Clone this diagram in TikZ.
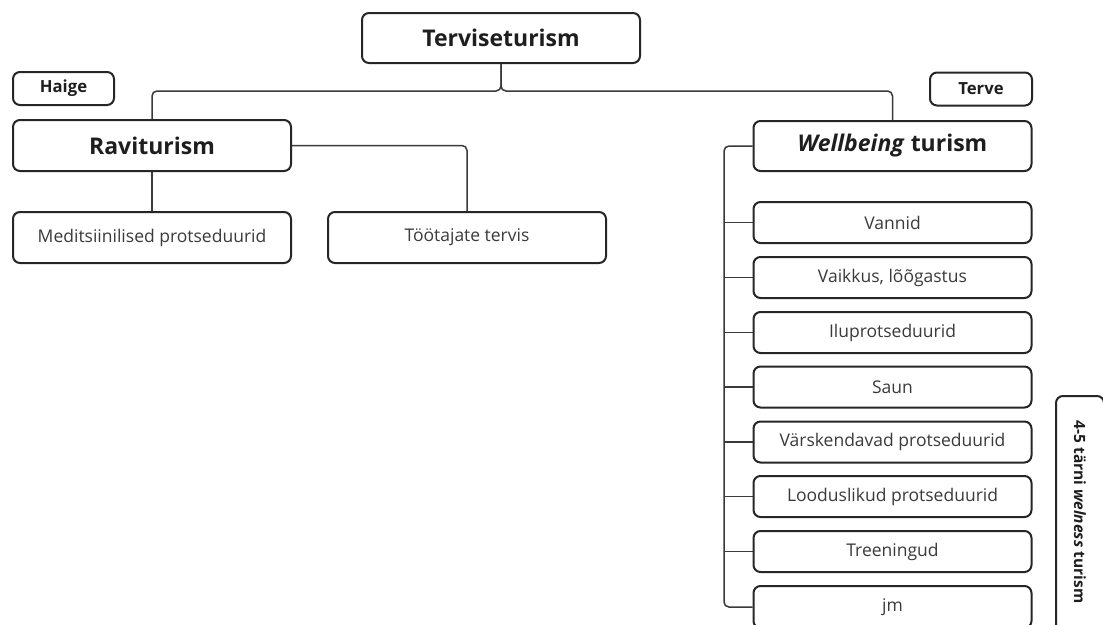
\documentclass[tikz,border=0pt]{standalone}
\usepackage{fontspec}
\setmainfont{Open Sans}
\definecolor{bordercol}{HTML}{262626}
\definecolor{linecol}{HTML}{3A3A3A}
\definecolor{titlecol}{HTML}{1E1E1E}
\definecolor{itemcol}{HTML}{3A3A3A}
\tikzset{
  box/.style={draw=bordercol, line width=2pt, rounded corners=7pt, inner sep=0pt, align=center, fill=white},
  titlebox/.style={box, text=titlecol, font=\fontsize{23}{27}\selectfont\bfseries, minimum width=278pt, minimum height=50pt},
  tagbox/.style={box, text=titlecol, font=\fontsize{16.7}{20}\selectfont\bfseries, minimum height=33pt},
  itembox/.style={box, text=itemcol, font=\fontsize{17.5}{21}\selectfont, minimum width=278pt, minimum height=41pt},
  conn/.style={draw=linecol, line width=1.5pt, rounded corners=5pt},
}
\begin{document}
\begin{tikzpicture}[x=1pt,y=-1pt]
\useasboundingbox[fill=white] (0,0) rectangle (1103,624);
% nodes
\node[titlebox] (tv) at (501,38) {Terviseturism};
\node[tagbox, minimum width=101pt] (haige) at (63.5,88.5) {Haige};
\node[tagbox, minimum width=102pt] (terve) at (981,89) {Terve};
\node[titlebox, minimum height=51pt] (rav) at (152,145.5) {Raviturism};
\node[itembox, minimum height=51pt] (med) at (152,237.5) {Meditsiinilised protseduurid};
\node[itembox, minimum height=51pt] (toot) at (467,237.5) {Töötajate tervis};
\node[titlebox] (wb) at (892.5,146) {\textit{Wellbeing} turism};
\node[itembox] (c1) at (892.5,222.5) {Vannid};
\node[itembox] (c2) at (892.5,277.5) {Vaikkus, lõõgastus};
\node[itembox] (c3) at (892.5,332.5) {Iluprotseduurid};
\node[itembox] (c4) at (892.5,387) {Saun};
\node[itembox] (c5) at (892.5,442) {Värskendavad protseduurid};
\node[itembox] (c6) at (892.5,496.5) {Looduslikud protseduurid};
\node[itembox] (c7) at (892.5,551.5) {Treeningud};
\node[itembox, minimum height=42pt] (c8) at (892.5,607) {jm};
\node[box, rotate=-90, text=titlecol, font=\fontsize{15.5}{18}\selectfont\bfseries, minimum width=236pt, minimum height=48pt] (star) at (1080,514) {4-5 tärni \textit{welness} turism\hspace*{4pt}};
% helper coordinates
\coordinate (jy) at (0,91);
\coordinate (bx) at (724,0);
% connectors
\draw[conn] (tv.south) -- (tv.south |- jy) -| (rav.north);
\draw[conn] (tv.south) -- (tv.south |- jy) -| (wb.north);
\draw[conn] (rav.south) -- (med.north);
\draw[conn] (rav.east) -| (toot.north);
\draw[conn] (wb.west) -| (bx |- c8.west) -- (c8.west);
\foreach \c in {c1,c2,c3,c4,c5,c6,c7}{
  \draw[conn] (\c.west -| bx) -- (\c.west);
}
\end{tikzpicture}
\end{document}
